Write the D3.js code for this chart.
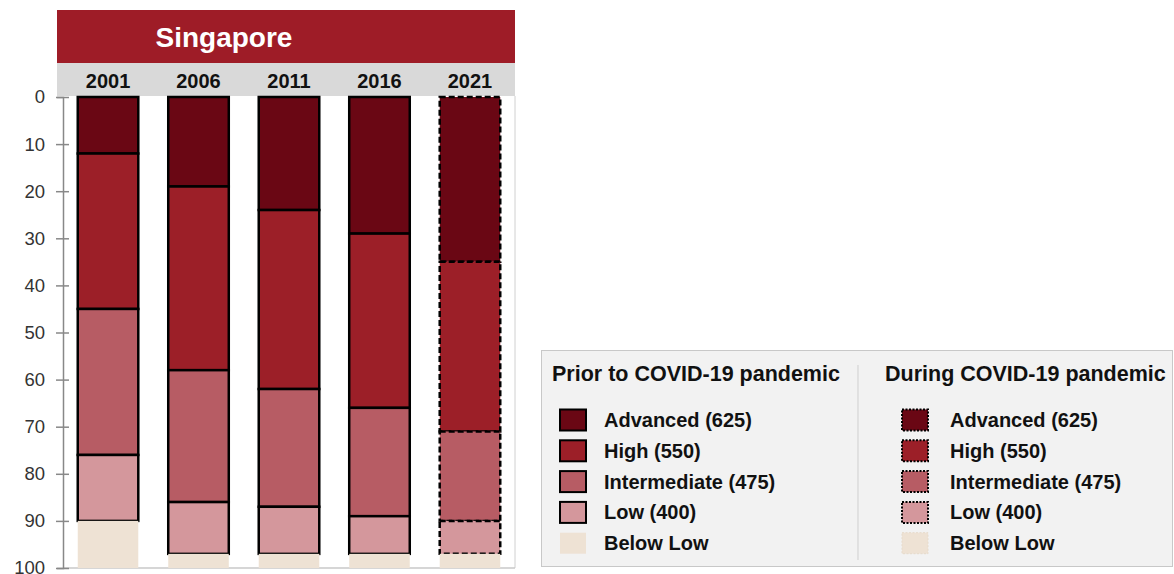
<!DOCTYPE html>
<html><head><meta charset="utf-8">
<script src="https://cdn.jsdelivr.net/npm/d3@7"></script>
<style>body{margin:0;background:#fff;font-family:"Liberation Sans",Arial,sans-serif;}</style>
</head><body>
<svg id="c" width="1174" height="574"></svg>
<script>
const years = ["2001","2006","2011","2016","2021"];
const levels = ["Advanced (625)","High (550)","Intermediate (475)","Low (400)","Below Low"];
const advanced = [12, 19, 24, 29, 35];
const high = [33, 39, 38, 37, 36];
const intermediate = [31, 28, 25, 23, 19];
const low = [14, 11, 10, 8, 7];
const belowLow = [10, 3, 3, 3, 3];
const duringCovid = [false, false, false, false, true];
const yTicks = [0,10,20,30,40,50,60,70,80,90,100];
const title = "Singapore";
const legendTitles = ["Prior to COVID-19 pandemic","During COVID-19 pandemic"];
const colors = ["#6A0714","#9C1F28","#B75C64","#D4979C","#EEE2D4"];

const series = [advanced, high, intermediate, low, belowLow];
const svg = d3.select("#c");
const x = d3.scaleBand().domain(years).range([63, 515]).paddingInner(0.331).paddingOuter(0.163);
const y = d3.scaleLinear().domain([0, 100]).range([97, 568]);

// header
svg.append("rect").attr("x",57).attr("y",10).attr("width",458).attr("height",53).attr("fill","#9E1C27");
svg.append("text").attr("x",224).attr("y",47).attr("text-anchor","middle").attr("fill","#fff")
  .attr("font-size",28).attr("font-weight","bold").text(title);
svg.append("rect").attr("x",57).attr("y",63).attr("width",458).attr("height",33).attr("fill","#D9D9D9");
svg.selectAll(".yr").data(years).join("text").attr("class","yr")
  .attr("x",d=>x(d)+x.bandwidth()/2).attr("y",88).attr("text-anchor","middle")
  .attr("font-size",20).attr("font-weight","bold").attr("fill","#111").text(d=>d);

// frame right/bottom
svg.append("line").attr("x1",515).attr("x2",515).attr("y1",96).attr("y2",568).attr("stroke","#D0D0D0").attr("stroke-width",1);
svg.append("line").attr("x1",63).attr("x2",515).attr("y1",568).attr("y2",568).attr("stroke","#C8C8C8").attr("stroke-width",1.5);

// axis
const ax = svg.append("g").attr("transform","translate(63,0)")
  .call(d3.axisLeft(y).tickValues(yTicks).tickSize(6).tickPadding(12));
ax.select(".domain").attr("stroke","#888").attr("stroke-width",1.5);
ax.selectAll(".tick line").attr("stroke","#888").attr("stroke-width",1.5).attr("x1",-7).attr("x2",6);
ax.selectAll(".tick text").attr("font-size",18.5).attr("fill","#333").attr("font-family","Liberation Sans, Arial, sans-serif").attr("x",-18);

// stacked bars
const stackData = years.map((yr,i)=>{ const o={year:yr}; levels.forEach((l,k)=>o[l]=series[k][i]); return o;});
const stack = d3.stack().keys(levels)(stackData);
stack.forEach((layer,k)=>{
  svg.selectAll(".s"+k).data(layer).join("rect").attr("class","s"+k)
    .attr("x",d=>x(d.data.year)).attr("width",x.bandwidth())
    .attr("y",d=>y(d[0])).attr("height",d=>y(d[1])-y(d[0]))
    .attr("fill",colors[k])
    .attr("stroke",k===4?"none":"#000")
    .attr("stroke-width",2.5)
    .attr("stroke-dasharray",(d,i)=>duringCovid[i]?"6,3":null);
});

// legend
const lg = svg.append("g");
lg.append("rect").attr("x",541.5).attr("y",350.5).attr("width",631).attr("height",216)
  .attr("fill","#F2F2F2").attr("stroke","#C8C8C8");
lg.append("line").attr("x1",858).attr("x2",858).attr("y1",365).attr("y2",560).attr("stroke","#CFCFCF");
const cols = [{tx:552, sx:560, lx:604, dash:null},{tx:885, sx:902, lx:950, dash:"2,1.5"}];
cols.forEach((c,ci)=>{
  lg.append("text").attr("x",c.tx).attr("y",381).attr("font-size",21.5).attr("font-weight","bold").attr("fill","#111").text(legendTitles[ci]);
  levels.forEach((l,k)=>{
    const cy = 420 + k*30.8;
    lg.append("rect").attr("x",c.sx).attr("y",cy-10.5).attr("width",26).attr("height",21)
      .attr("fill",colors[k]).attr("stroke",k===4?(ci===1?"#E6DACB":"none"):"#000")
      .attr("stroke-width",k===4?1:2).attr("stroke-dasharray",c.dash);
    lg.append("text").attr("x",c.lx).attr("y",cy+7).attr("font-size",20).attr("font-weight","bold").attr("fill","#111").text(l);
  });
});
</script>
</body></html>
